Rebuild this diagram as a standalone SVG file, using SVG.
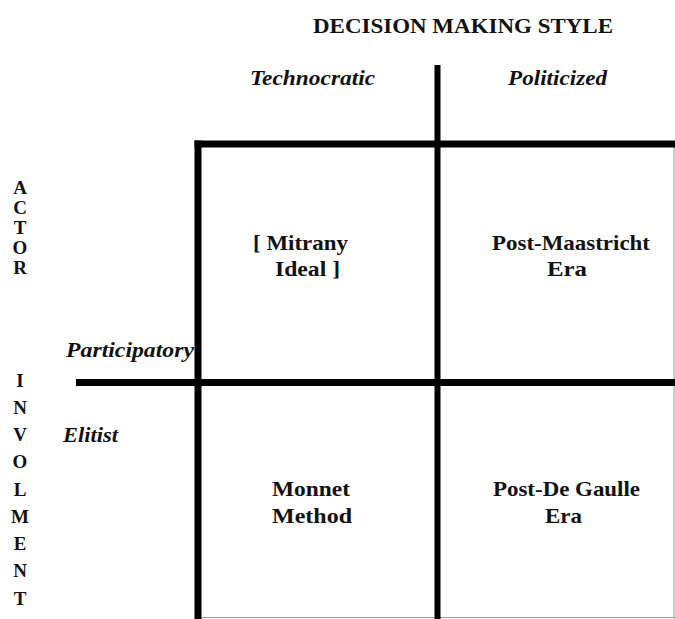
<svg xmlns="http://www.w3.org/2000/svg" width="675" height="619" viewBox="0 0 675 619">
<style>
.t{font-family:"Liberation Serif","Times New Roman",serif;font-weight:bold;fill:#111}
.ti{font-family:"Liberation Serif","Times New Roman",serif;font-weight:bold;font-style:italic;fill:#111}
.q{font-size:21px}
.ax{font-size:20px}
.lt{font-size:19px;text-anchor:middle}
.thick{stroke:#000;stroke-width:7;fill:none}
.thin{stroke:#9a9a9a;stroke-width:1;fill:none}
</style>
<rect width="675" height="619" fill="#fff"/>
<g id="connectors">
<line class="thin" x1="674" y1="144" x2="674" y2="619"/>
<line class="thin" x1="198" y1="617.5" x2="675" y2="617.5"/>
<line class="thick" x1="194.5" y1="144" x2="675" y2="144"/>
<line class="thick" x1="198" y1="140.5" x2="198" y2="619"/>
<line class="thick" x1="76" y1="382.5" x2="675" y2="382.5"/>
<line class="thick" style="stroke-width:6" x1="437.5" y1="65" x2="437.5" y2="619"/>
</g>
<g id="title">
<text class="t" x="313" y="33" font-size="22" textLength="300" lengthAdjust="spacingAndGlyphs">DECISION MAKING STYLE</text>
</g>
<g id="axis-top">
<text class="ti ax" x="250" y="85" textLength="125" lengthAdjust="spacingAndGlyphs">Technocratic</text>
<text class="ti ax" x="508" y="85" textLength="99" lengthAdjust="spacingAndGlyphs">Politicized</text>
</g>
<g id="axis-left">
<text class="t lt" x="20" y="194">A</text>
<text class="t lt" x="20" y="214">C</text>
<text class="t lt" x="20" y="234">T</text>
<text class="t lt" x="20" y="254">O</text>
<text class="t lt" x="20" y="274">R</text>
<text class="t lt" x="20" y="387">I</text>
<text class="t lt" x="20" y="414">N</text>
<text class="t lt" x="20" y="441">V</text>
<text class="t lt" x="20" y="468">O</text>
<text class="t lt" x="20" y="496">L</text>
<text class="t lt" x="20" y="523">M</text>
<text class="t lt" x="20" y="550">E</text>
<text class="t lt" x="20" y="577">N</text>
<text class="t lt" x="20" y="605">T</text>
<text class="ti ax" x="66" y="357" textLength="128" lengthAdjust="spacingAndGlyphs">Participatory</text>
<text class="ti ax" x="63" y="442" textLength="55" lengthAdjust="spacingAndGlyphs">Elitist</text>
</g>
<g id="mitrany">
<text class="t q" x="253" y="250" textLength="95" lengthAdjust="spacingAndGlyphs">[ Mitrany</text>
<text class="t q" x="275" y="276" textLength="65" lengthAdjust="spacingAndGlyphs">Ideal ]</text>
</g>
<g id="post-maastricht">
<text class="t q" x="492" y="250" textLength="158" lengthAdjust="spacingAndGlyphs">Post-Maastricht</text>
<text class="t q" x="547" y="276" textLength="40" lengthAdjust="spacingAndGlyphs">Era</text>
</g>
<g id="monnet">
<text class="t q" x="272" y="496" textLength="78" lengthAdjust="spacingAndGlyphs">Monnet</text>
<text class="t q" x="272" y="523" textLength="80" lengthAdjust="spacingAndGlyphs">Method</text>
</g>
<g id="post-de-gaulle">
<text class="t q" x="493" y="496" textLength="147" lengthAdjust="spacingAndGlyphs">Post-De Gaulle</text>
<text class="t q" x="545" y="523" textLength="37" lengthAdjust="spacingAndGlyphs">Era</text>
</g>
</svg>
